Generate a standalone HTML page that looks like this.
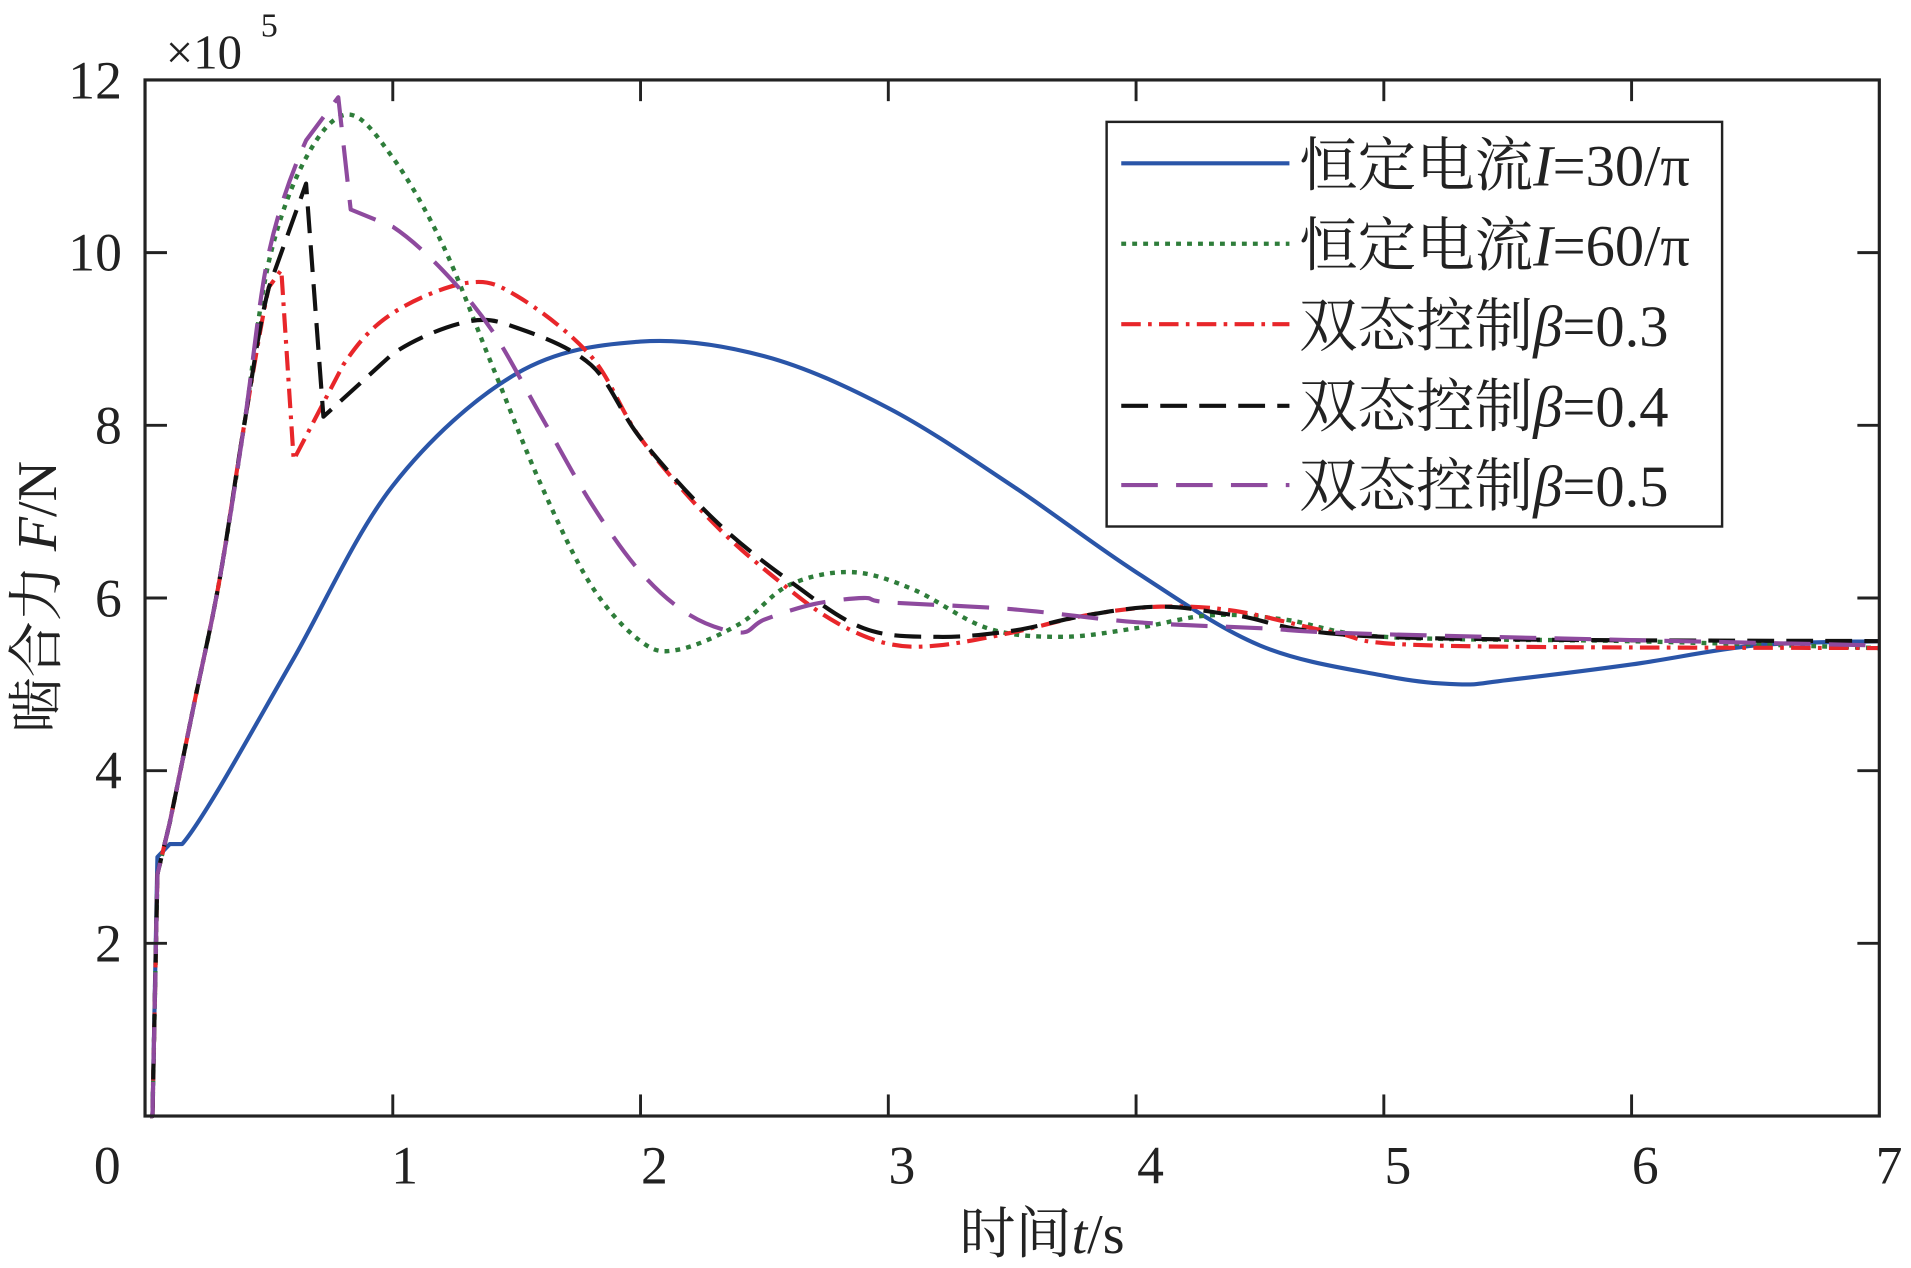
<!DOCTYPE html>
<html><head><meta charset="utf-8"><style>
html,body{margin:0;padding:0;background:#fff;}
svg{display:block;}
text{font-family:"Liberation Serif","Noto Serif CJK SC",serif;fill:#222;}
</style></head><body>
<svg id="s" width="1911" height="1268" viewBox="0 0 1568 1040.4" preserveAspectRatio="none" xmlns="http://www.w3.org/2000/svg">
<g id="curves" fill="none" stroke-linejoin="round"></g>
<rect x="119" y="65.6" width="1423" height="850.1" fill="none" stroke="#222" stroke-width="2.6"/>
<g id="ticks" stroke="#222" stroke-width="2.4"></g>
<g font-size="44" text-anchor="end">
<text x="100" y="789">2</text>
<text x="100" y="647">4</text>
<text x="100" y="506">6</text>
<text x="100" y="364">8</text>
<text x="100" y="222">10</text>
<text x="100" y="81">12</text>
</g>
<text x="136" y="56" font-size="40">×10</text>
<text x="214" y="30" font-size="28">5</text>
<g font-size="44" text-anchor="middle">
<text x="88" y="971">0</text>
<text x="332" y="971">1</text>
<text x="537" y="971">2</text>
<text x="740" y="971">3</text>
<text x="944" y="971">4</text>
<text x="1147" y="971">5</text>
<text x="1350" y="971">6</text>
<text x="1550" y="971">7</text>
</g>
<text x="855" y="1028" font-size="46" text-anchor="middle">时间<tspan font-style="italic">t</tspan>/s</text>
<text transform="translate(46,490) rotate(-90)" font-size="46" text-anchor="middle">啮合力  <tspan font-style="italic">F</tspan>/N</text>
<rect x="908" y="100" width="505" height="332" fill="#fff" stroke="#222" stroke-width="2"/>
<g id="leg" fill="none"></g>
<g font-size="48">
<text x="1066" y="152">恒定电流<tspan font-style="italic">I</tspan>=30/π</text>
<text x="1066" y="218">恒定电流<tspan font-style="italic">I</tspan>=60/π</text>
<text x="1066" y="284">双态控制<tspan font-style="italic">β</tspan>=0.3</text>
<text x="1066" y="350">双态控制<tspan font-style="italic">β</tspan>=0.4</text>
<text x="1066" y="415">双态控制<tspan font-style="italic">β</tspan>=0.5</text>
</g>
</svg>
<script>
var X=function(t){return 119+t*203.29;},Y=function(f){return 915.7-f*70.84;};
var rise=[[0.02,0],[0.03,0],[0.05,2.8],[0.1,3.4],[0.2,4.8],[0.3,6.2],[0.4,8.0],[0.5,9.6]];
var S=[
{c:"#2a55a8",d:"",w:3.4,p:[[0.02,0],[0.03,0],[0.05,3.0],[0.1,3.15],[0.15,3.15],[0.3,3.8],[0.6,5.3],[1,7.3],[1.5,8.6],[2,8.97],[2.5,8.8],[3,8.2],[3.5,7.3],[4,6.3],[4.5,5.45],[5,5.1],[5.3,5.0],[5.5,5.05],[6,5.23],[6.5,5.45],[7,5.5]]},
{c:"#2e7d3a",d:"4 5",w:3.6,p:rise.slice(0,7).concat([[0.5,9.9],[0.65,11.1],[0.82,11.6],[1,11.1],[1.2,10.1],[1.4,8.7],[1.6,7.3],[1.8,6.15],[2,5.5],[2.15,5.4],[2.4,5.7],[2.6,6.15],[2.85,6.3],[3.1,6.1],[3.4,5.65],[3.7,5.55],[4,5.65],[4.3,5.8],[4.6,5.75],[5,5.55],[6,5.5],[7,5.42]])},
{c:"#e8262a",d:"16 6 3 6",w:3.4,p:rise.concat([[0.55,9.8],[0.6,7.6],[0.8,8.7],[1,9.3],[1.3,9.65],[1.5,9.5],[1.8,8.8],[2,7.85],[2.3,6.85],[2.6,6.1],[2.8,5.7],[3,5.47],[3.2,5.45],[3.5,5.6],[3.8,5.8],[4.1,5.9],[4.4,5.85],[4.8,5.6],[5.2,5.45],[7,5.42]])},
{c:"#111",d:"22 10",w:3.4,p:rise.concat([[0.65,10.8],[0.72,8.1],[1,8.83],[1.3,9.2],[1.5,9.13],[1.8,8.7],[2,7.85],[2.3,6.9],[2.6,6.2],[2.9,5.65],[3.2,5.55],[3.5,5.62],[3.8,5.8],[4.1,5.9],[4.4,5.8],[5,5.55],[7,5.5]])},
{c:"#8e4a9e",d:"30 15",w:3.4,p:rise.slice(0,7).concat([[0.5,10],[0.65,11.3],[0.78,11.8],[0.83,10.5],[1,10.3],[1.2,9.8],[1.4,9.1],[1.6,8.1],[1.8,7.1],[2,6.3],[2.2,5.8],[2.4,5.6],[2.5,5.75],[2.7,5.93],[2.9,6.0],[3,5.95],[3.5,5.87],[4,5.72],[4.5,5.65],[5,5.58],[7,5.45]])}
];
var g=document.getElementById('curves'),ns="http://www.w3.org/2000/svg";
function steep(a,b){return Math.abs(b[1]-a[1])/(b[0]-a[0]+1e-9)>20;}
function path(pts){var s="M"+X(pts[0][0])+","+Y(pts[0][1]);for(var i=1;i<pts.length;i++){var p0=pts[Math.max(0,i-2)],p1=pts[i-1],p2=pts[i],p3=pts[Math.min(pts.length-1,i+1)];
if(steep(p1,p2)||steep(p0,p1)||steep(p2,p3)||p1[0]<0.12){s+="L"+X(p2[0])+","+Y(p2[1]);continue;}
var x1=X(p1[0])+(X(p2[0])-X(p0[0]))/6,y1=Y(p1[1])+(Y(p2[1])-Y(p0[1]))/6,x2=X(p2[0])-(X(p3[0])-X(p1[0]))/6,y2=Y(p2[1])-(Y(p3[1])-Y(p1[1]))/6;
s+="C"+x1+","+y1+" "+x2+","+y2+" "+X(p2[0])+","+Y(p2[1]);}return s;}
var leg=document.getElementById('leg'),ly=[134,200,266,333,398];
S.forEach(function(o,i){var e=document.createElementNS(ns,"path");e.setAttribute("d",path(o.p));e.setAttribute("stroke",o.c);e.setAttribute("stroke-width",o.w);if(o.d)e.setAttribute("stroke-dasharray",o.d);g.appendChild(e);
var l=document.createElementNS(ns,"line");l.setAttribute("x1",920);l.setAttribute("x2",1058);l.setAttribute("y1",ly[i]);l.setAttribute("y2",ly[i]);l.setAttribute("stroke",o.c);l.setAttribute("stroke-width",3.4);if(o.d)l.setAttribute("stroke-dasharray",o.d);leg.appendChild(l);});
var t=document.getElementById('ticks'),h="";
for(var k=1;k<7;k++){var x=X(k);h+='<line x1="'+x+'" x2="'+x+'" y1="915.7" y2="898"/><line x1="'+x+'" x2="'+x+'" y1="65.6" y2="83"/>';}
for(var k=2;k<12;k+=2){var y=Y(k);h+='<line x1="119" x2="137" y1="'+y+'" y2="'+y+'"/><line x1="1542" x2="1524" y1="'+y+'" y2="'+y+'"/>';}
t.innerHTML=h;
</script>
</body></html>
